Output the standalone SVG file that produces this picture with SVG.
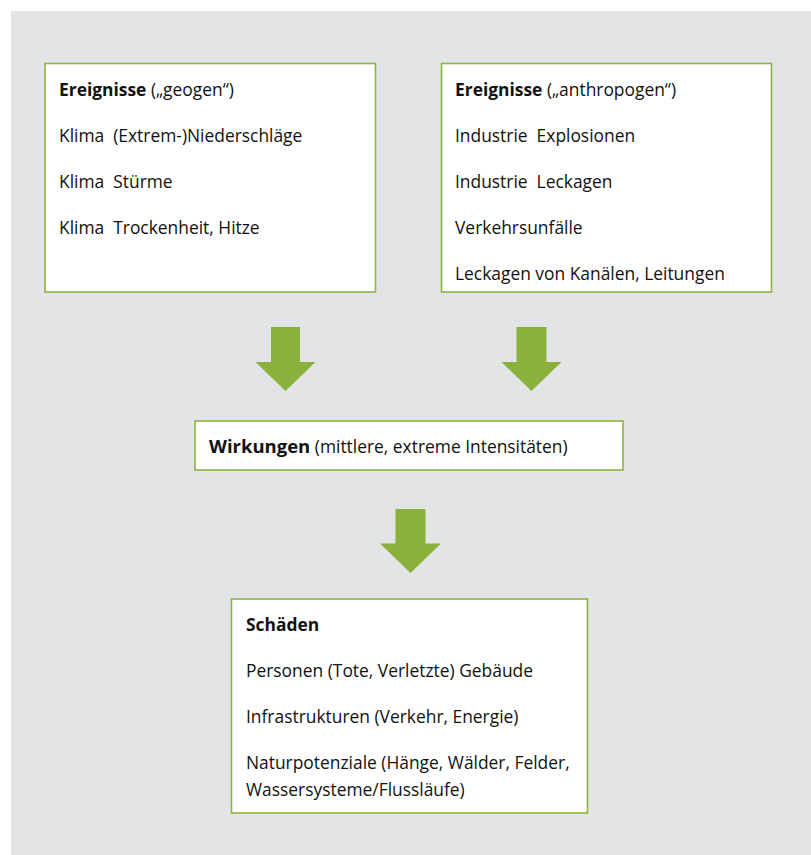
<svg xmlns="http://www.w3.org/2000/svg" width="811" height="855" viewBox="0 0 811 855">
<style>
.box{fill:#ffffff;stroke:#8db341;stroke-width:1.6}
.t{font-family:"Open Sans","Noto Sans","Liberation Sans",sans-serif;font-size:17.4px;fill:#111111}
.b{font-weight:bold}
.arr{fill:#8ab13b}
</style>
<rect x="0" y="0" width="811" height="855" fill="#ffffff"/>
<rect x="11" y="11" width="800" height="844" fill="#e3e4e6"/>
<g id="geogen">
<rect class="box" x="45" y="63.5" width="330.5" height="228.5"/>
<text class="t" x="59" y="96"><tspan class="b">Ereignisse</tspan> („geogen“)</text>
<text class="t" x="59" y="142" xml:space="preserve">Klima  (Extrem-)Niederschläge</text>
<text class="t" x="59" y="188" xml:space="preserve">Klima  Stürme</text>
<text class="t" x="59" y="234" xml:space="preserve">Klima  Trockenheit, Hitze</text>
</g>
<g id="anthropogen">
<rect class="box" x="441.5" y="63.5" width="330" height="228.5"/>
<text class="t" x="455" y="96"><tspan class="b">Ereignisse</tspan> („anthropogen“)</text>
<text class="t" x="455" y="142" xml:space="preserve">Industrie  Explosionen</text>
<text class="t" x="455" y="188" xml:space="preserve">Industrie  Leckagen</text>
<text class="t" x="455" y="234">Verkehrsunfälle</text>
<text class="t" x="455" y="280">Leckagen von Kanälen, Leitungen</text>
</g>
<g id="wirkungen">
<rect class="box" x="195" y="421" width="428" height="49"/>
<text class="t" x="209" y="453"><tspan class="b" style="font-size:18.5px">Wirkungen</tspan> (mittlere, extreme Intensitäten)</text>
</g>
<g id="schaeden">
<rect class="box" x="231.5" y="599" width="356" height="214"/>
<text class="t b" x="246" y="631">Schäden</text>
<text class="t" x="246" y="677">Personen (Tote, Verletzte) Gebäude</text>
<text class="t" x="246" y="723">Infrastrukturen (Verkehr, Energie)</text>
<text class="t" x="246" y="769">Naturpotenziale (Hänge, Wälder, Felder,</text>
<text class="t" x="246" y="796">Wassersysteme/Flussläufe)</text>
</g>
<g id="connectors">
<polygon class="arr" points="271,327 300,327 300,362 315.5,362 285.5,391 255.5,362 271,362"/>
<polygon class="arr" points="516.5,327 546.5,327 546.5,362 561.5,362 531.5,391 501.5,362 516.5,362"/>
<polygon class="arr" points="395.5,509 425.5,509 425.5,543.5 441,543.5 410.5,573 380,543.5 395.5,543.5"/>
</g>
</svg>
